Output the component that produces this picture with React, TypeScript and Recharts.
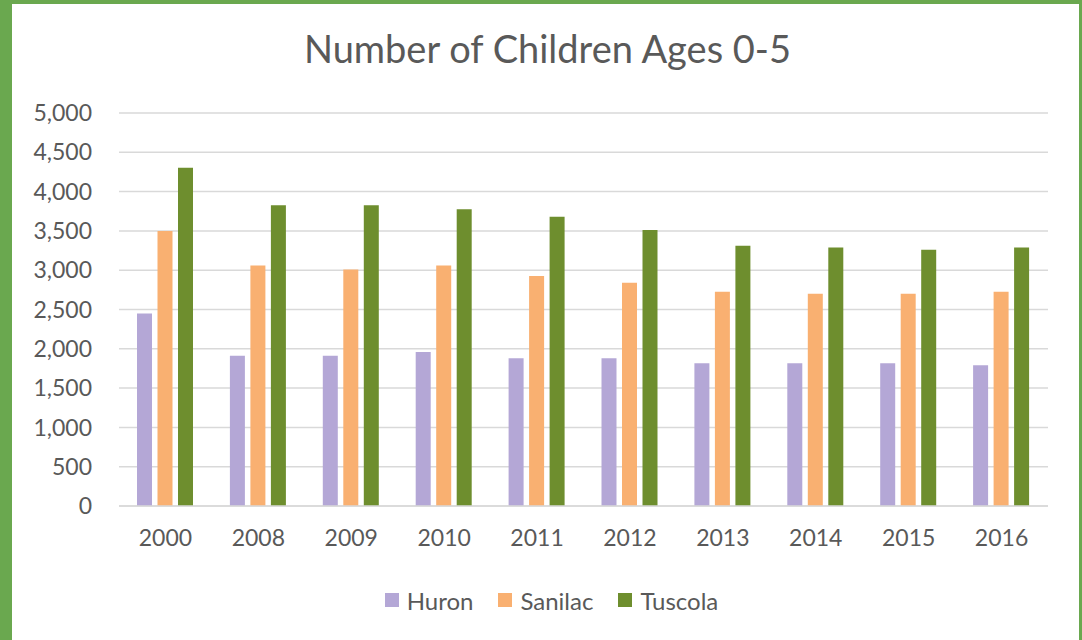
import React from 'react';
import { BarChart, Bar, XAxis, YAxis, CartesianGrid, Legend } from 'recharts';

const years = ['2000', '2008', '2009', '2010', '2011', '2012', '2013', '2014', '2015', '2016'];
const huron = [2450, 1910, 1910, 1960, 1880, 1880, 1815, 1815, 1815, 1790];
const sanilac = [3500, 3060, 3010, 3060, 2925, 2840, 2725, 2700, 2700, 2725];
const tuscola = [4305, 3825, 3825, 3775, 3680, 3510, 3310, 3290, 3260, 3290];
const yTicks = [0, 500, 1000, 1500, 2000, 2500, 3000, 3500, 4000, 4500, 5000];

const data = years.map((y, i) => ({
  year: y,
  Huron: huron[i],
  Sanilac: sanilac[i],
  Tuscola: tuscola[i],
}));

const FONT = 'Lato, "Open Sans", sans-serif';
const TEXT = '#595959';

const fmt = (v: number) => v.toLocaleString('en-US');

const LegendContent = (props: any) => {
  const payload = props.payload || [];
  return (
    <div
      style={{
        display: 'flex',
        justifyContent: 'center',
        alignItems: 'center',
        height: 30,
        fontFamily: FONT,
        fontSize: 24,
        color: TEXT,
      }}
    >
      {payload.map((p: any, i: number) => (
        <span
          key={p.value}
          style={{
            display: 'flex',
            alignItems: 'center',
            marginRight: i < payload.length - 1 ? 25 : 0,
          }}
        >
          <span
            style={{
              display: 'inline-block',
              width: 14,
              height: 14,
              background: p.color,
              marginRight: 8,
            }}
          />
          {p.value}
        </span>
      ))}
    </div>
  );
};

export default function App() {
  return (
    <div
      style={{
        position: 'fixed',
        left: 0,
        top: 0,
        width: 1082,
        height: 640,
        background: '#6AA84F',
        overflow: 'hidden',
      }}
    >
      <div
        style={{
          position: 'absolute',
          left: 12,
          top: 4,
          width: 1067,
          height: 636,
          background: '#FFFFFF',
        }}
      />
      <div
        style={{
          position: 'absolute',
          left: 12,
          top: 26,
          width: 1071,
          textAlign: 'center',
          fontFamily: FONT,
          fontSize: 38,
          color: TEXT,
          lineHeight: '44px',
          whiteSpace: 'nowrap',
        }}
      >
        Number of Children Ages 0-5
      </div>
      <div style={{ position: 'absolute', left: 0, top: 0 }}>
        <BarChart
          width={1082}
          height={640}
          data={data}
          margin={{ top: 113, right: 34, left: 0, bottom: 44 }}
          barGap={5.5}
        >
          <CartesianGrid vertical={false} stroke="#D9D9D9" strokeWidth={1.5} />
          <XAxis
            dataKey="year"
            axisLine={{ stroke: '#D9D9D9', strokeWidth: 1.5 }}
            tickLine={false}
            tickSize={0}
            tickMargin={24}
            height={60}
            tick={{ fill: TEXT, fontFamily: FONT, fontSize: 23 }}
          />
          <YAxis
            domain={[0, 5000]}
            ticks={yTicks}
            interval={0}
            axisLine={false}
            tickLine={false}
            tickSize={0}
            tickMargin={27}
            width={119}
            tickFormatter={fmt}
            tick={{ fill: TEXT, fontFamily: FONT, fontSize: 23 }}
          />
          <Legend
            verticalAlign="bottom"
            content={<LegendContent />}
            wrapperStyle={{ top: 585, left: 21, width: 1061 }}
          />
          <Bar dataKey="Huron" fill="#B4A7D6" barSize={15} isAnimationActive={false} />
          <Bar dataKey="Sanilac" fill="#F9B071" barSize={15} isAnimationActive={false} />
          <Bar dataKey="Tuscola" fill="#6E8E2E" barSize={15} isAnimationActive={false} />
        </BarChart>
      </div>
    </div>
  );
}
